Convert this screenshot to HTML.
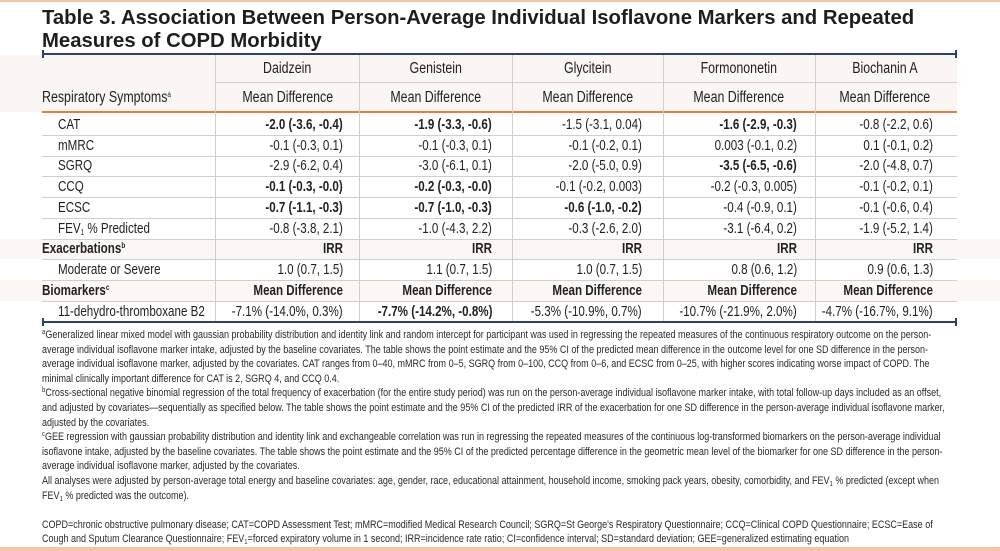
<!DOCTYPE html>
<html><head><meta charset="utf-8"><style>
*{margin:0;padding:0;box-sizing:border-box}
body{width:1000px;height:551px;background:#fff;position:relative;overflow:hidden;font-family:"Liberation Sans",Arial,sans-serif;color:#222}
.a{position:absolute}
.t{position:absolute;left:42px;font-weight:bold;font-size:20.5px;color:#1e1e1e;white-space:nowrap;transform:scaleX(.99);transform-origin:left}
.hl{position:absolute;left:42px;width:915px;height:1px;background:#cfcfcf}
.vl{position:absolute;width:1px;background:#cfcfcf}
.c{position:absolute;font-size:14.5px;white-space:nowrap;line-height:20px}
.c span{display:inline-block;transform:scaleX(.8)}
.r span{transform-origin:right}
.l span{transform-origin:left}
.m span{transform-origin:center}
b{font-weight:bold}
sup{font-size:8px;line-height:0;position:relative;top:-5px;vertical-align:baseline}
sub{font-size:8px;line-height:0;position:relative;top:2px;vertical-align:baseline}
.fn{position:absolute;left:42px;top:328px;width:1035px;font-size:10.6px;line-height:14.6px;white-space:nowrap;transform:scaleX(.85);transform-origin:left top;color:#2a2a2a}
.fn sup{font-size:7px;top:-4px}
.fn sub{font-size:7px}
</style></head><body>
<div class="a" style="left:0;top:0;width:1000px;height:2px;background:#f6c3a6"></div>
<div class="t" style="top:6px">Table 3. Association Between Person-Average Individual Isoflavone Markers and Repeated</div>
<div class="t" style="top:29px">Measures of COPD Morbidity</div>

<div class="a" style="left:0;top:55px;width:957px;height:57px;background:#f9f6f4"></div>
<div class="a" style="left:0;top:239px;width:1000px;height:20px;background:#faf7f5"></div>
<div class="a" style="left:0;top:280px;width:1000px;height:21px;background:#faf7f5"></div>

<div class="a" style="left:42px;top:53px;width:915px;height:2px;background:#2d4168"></div>
<div class="a" style="left:42px;top:50px;width:2px;height:8px;background:#2d4168"></div>
<div class="a" style="left:955px;top:50px;width:2px;height:8px;background:#2d4168"></div>
<div class="a" style="left:216px;top:82px;width:741px;height:1px;background:#cfcfcf"></div>
<div class="a" style="left:42px;top:111px;width:915px;height:2px;background:#ea7a42"></div>

<div class="hl" style="top:135px"></div><div class="hl" style="top:156px"></div><div class="hl" style="top:176px"></div>
<div class="hl" style="top:197px"></div><div class="hl" style="top:218px"></div><div class="hl" style="top:239px"></div>
<div class="hl" style="top:259px"></div><div class="hl" style="top:280px"></div><div class="hl" style="top:301px"></div>

<div class="vl" style="left:215px;top:55px;height:267px"></div>
<div class="vl" style="left:359px;top:55px;height:267px"></div>
<div class="vl" style="left:512px;top:55px;height:267px"></div>
<div class="vl" style="left:663px;top:55px;height:267px"></div>
<div class="vl" style="left:815px;top:55px;height:267px"></div>

<div class="a" style="left:42px;top:321px;width:915px;height:2px;background:#2d4168"></div>
<div class="a" style="left:42px;top:318px;width:2px;height:8px;background:#2d4168"></div>
<div class="a" style="left:955px;top:318px;width:2px;height:8px;background:#2d4168"></div>

<div class="c m" style="left:216px;width:143px;top:59px;text-align:center;font-size:15.5px"><span>Daidzein</span></div>
<div class="c m" style="left:359px;width:153px;top:59px;text-align:center;font-size:15.5px"><span>Genistein</span></div>
<div class="c m" style="left:512px;width:151px;top:59px;text-align:center;font-size:15.5px"><span>Glycitein</span></div>
<div class="c m" style="left:663px;width:152px;top:59px;text-align:center;font-size:15.5px"><span>Formononetin</span></div>
<div class="c m" style="left:815px;width:140px;top:59px;text-align:center;font-size:15.5px"><span>Biochanin A</span></div>
<div class="c l" style="left:42px;top:88px;font-size:15.5px"><span>Respiratory Symptoms<sup>a</sup></span></div>
<div class="c m" style="left:216px;width:143px;top:88px;text-align:center;font-size:15.5px"><span>Mean Difference</span></div>
<div class="c m" style="left:359px;width:153px;top:88px;text-align:center;font-size:15.5px"><span>Mean Difference</span></div>
<div class="c m" style="left:512px;width:151px;top:88px;text-align:center;font-size:15.5px"><span>Mean Difference</span></div>
<div class="c m" style="left:663px;width:152px;top:88px;text-align:center;font-size:15.5px"><span>Mean Difference</span></div>
<div class="c m" style="left:815px;width:140px;top:88px;text-align:center;font-size:15.5px"><span>Mean Difference</span></div>

<div class="c l" style="left:58px;top:115px"><span>CAT</span></div>
<div class="c l" style="left:58px;top:136px"><span>mMRC</span></div>
<div class="c l" style="left:58px;top:156px"><span>SGRQ</span></div>
<div class="c l" style="left:58px;top:177px"><span>CCQ</span></div>
<div class="c l" style="left:58px;top:198px"><span>ECSC</span></div>
<div class="c l" style="left:58px;top:219px"><span>FEV<sub>1</sub> % Predicted</span></div>
<div class="c l" style="left:42px;top:239px;font-weight:bold"><span>Exacerbations<sup>b</sup></span></div>
<div class="c l" style="left:58px;top:260px"><span>Moderate or Severe</span></div>
<div class="c l" style="left:42px;top:281px;font-weight:bold"><span>Biomarkers<sup>c</sup></span></div>
<div class="c l" style="left:58px;top:302px"><span>11-dehydro-thromboxane B2</span></div>

<div class="c r" style="right:657px;top:115px"><span><b>-2.0 (-3.6, -0.4)</b></span></div>
<div class="c r" style="right:657px;top:136px"><span>-0.1 (-0.3, 0.1)</span></div>
<div class="c r" style="right:657px;top:156px"><span>-2.9 (-6.2, 0.4)</span></div>
<div class="c r" style="right:657px;top:177px"><span><b>-0.1 (-0.3, -0.0)</b></span></div>
<div class="c r" style="right:657px;top:198px"><span><b>-0.7 (-1.1, -0.3)</b></span></div>
<div class="c r" style="right:657px;top:219px"><span>-0.8 (-3.8, 2.1)</span></div>
<div class="c r" style="right:657px;top:239px"><span><b>IRR</b></span></div>
<div class="c r" style="right:657px;top:260px"><span>1.0 (0.7, 1.5)</span></div>
<div class="c r" style="right:657px;top:281px"><span><b>Mean Difference</b></span></div>
<div class="c r" style="right:657px;top:302px"><span>-7.1% (-14.0%, 0.3%)</span></div>

<div class="c r" style="right:508px;top:115px"><span><b>-1.9 (-3.3, -0.6)</b></span></div>
<div class="c r" style="right:508px;top:136px"><span>-0.1 (-0.3, 0.1)</span></div>
<div class="c r" style="right:508px;top:156px"><span>-3.0 (-6.1, 0.1)</span></div>
<div class="c r" style="right:508px;top:177px"><span><b>-0.2 (-0.3, -0.0)</b></span></div>
<div class="c r" style="right:508px;top:198px"><span><b>-0.7 (-1.0, -0.3)</b></span></div>
<div class="c r" style="right:508px;top:219px"><span>-1.0 (-4.3, 2.2)</span></div>
<div class="c r" style="right:508px;top:239px"><span><b>IRR</b></span></div>
<div class="c r" style="right:508px;top:260px"><span>1.1 (0.7, 1.5)</span></div>
<div class="c r" style="right:508px;top:281px"><span><b>Mean Difference</b></span></div>
<div class="c r" style="right:508px;top:302px"><span><b>-7.7% (-14.2%, -0.8%)</b></span></div>

<div class="c r" style="right:358px;top:115px"><span>-1.5 (-3.1, 0.04)</span></div>
<div class="c r" style="right:358px;top:136px"><span>-0.1 (-0.2, 0.1)</span></div>
<div class="c r" style="right:358px;top:156px"><span>-2.0 (-5.0, 0.9)</span></div>
<div class="c r" style="right:358px;top:177px"><span>-0.1 (-0.2, 0.003)</span></div>
<div class="c r" style="right:358px;top:198px"><span><b>-0.6 (-1.0, -0.2)</b></span></div>
<div class="c r" style="right:358px;top:219px"><span>-0.3 (-2.6, 2.0)</span></div>
<div class="c r" style="right:358px;top:239px"><span><b>IRR</b></span></div>
<div class="c r" style="right:358px;top:260px"><span>1.0 (0.7, 1.5)</span></div>
<div class="c r" style="right:358px;top:281px"><span><b>Mean Difference</b></span></div>
<div class="c r" style="right:358px;top:302px"><span>-5.3% (-10.9%, 0.7%)</span></div>

<div class="c r" style="right:203px;top:115px"><span><b>-1.6 (-2.9, -0.3)</b></span></div>
<div class="c r" style="right:203px;top:136px"><span>0.003 (-0.1, 0.2)</span></div>
<div class="c r" style="right:203px;top:156px"><span><b>-3.5 (-6.5, -0.6)</b></span></div>
<div class="c r" style="right:203px;top:177px"><span>-0.2 (-0.3, 0.005)</span></div>
<div class="c r" style="right:203px;top:198px"><span>-0.4 (-0.9, 0.1)</span></div>
<div class="c r" style="right:203px;top:219px"><span>-3.1 (-6.4, 0.2)</span></div>
<div class="c r" style="right:203px;top:239px"><span><b>IRR</b></span></div>
<div class="c r" style="right:203px;top:260px"><span>0.8 (0.6, 1.2)</span></div>
<div class="c r" style="right:203px;top:281px"><span><b>Mean Difference</b></span></div>
<div class="c r" style="right:203px;top:302px"><span>-10.7% (-21.9%, 2.0%)</span></div>

<div class="c r" style="right:67px;top:115px"><span>-0.8 (-2.2, 0.6)</span></div>
<div class="c r" style="right:67px;top:136px"><span>0.1 (-0.1, 0.2)</span></div>
<div class="c r" style="right:67px;top:156px"><span>-2.0 (-4.8, 0.7)</span></div>
<div class="c r" style="right:67px;top:177px"><span>-0.1 (-0.2, 0.1)</span></div>
<div class="c r" style="right:67px;top:198px"><span>-0.1 (-0.6, 0.4)</span></div>
<div class="c r" style="right:67px;top:219px"><span>-1.9 (-5.2, 1.4)</span></div>
<div class="c r" style="right:67px;top:239px"><span><b>IRR</b></span></div>
<div class="c r" style="right:67px;top:260px"><span>0.9 (0.6, 1.3)</span></div>
<div class="c r" style="right:67px;top:281px"><span><b>Mean Difference</b></span></div>
<div class="c r" style="right:67px;top:302px"><span>-4.7% (-16.7%, 9.1%)</span></div>

<div class="fn">
<sup>a</sup>Generalized linear mixed model with gaussian probability distribution and identity link and random intercept for participant was used in regressing the repeated measures of the continuous respiratory outcome on the person-<br>
average individual isoflavone marker intake, adjusted by the baseline covariates. The table shows the point estimate and the 95% CI of the predicted mean difference in the outcome level for one SD difference in the person-<br>
average individual isoflavone marker, adjusted by the covariates. CAT ranges from 0–40, mMRC from 0–5, SGRQ from 0–100, CCQ from 0–6, and ECSC from 0–25, with higher scores indicating worse impact of COPD. The<br>
minimal clinically important difference for CAT is 2, SGRQ 4, and CCQ 0.4.<br>
<sup>b</sup>Cross-sectional negative binomial regression of the total frequency of exacerbation (for the entire study period) was run on the person-average individual isoflavone marker intake, with total follow-up days included as an offset,<br>
and adjusted by covariates—sequentially as specified below. The table shows the point estimate and the 95% CI of the predicted IRR of the exacerbation for one SD difference in the person-average individual isoflavone marker,<br>
adjusted by the covariates.<br>
<sup>c</sup>GEE regression with gaussian probability distribution and identity link and exchangeable correlation was run in regressing the repeated measures of the continuous log-transformed biomarkers on the person-average individual<br>
isoflavone intake, adjusted by the baseline covariates. The table shows the point estimate and the 95% CI of the predicted percentage difference in the geometric mean level of the biomarker for one SD difference in the person-<br>
average individual isoflavone marker, adjusted by the covariates.<br>
All analyses were adjusted by person-average total energy and baseline covariates: age, gender, race, educational attainment, household income, smoking pack years, obesity, comorbidity, and FEV<sub>1</sub> % predicted (except when<br>
FEV<sub>1</sub> % predicted was the outcome).<br>
<br>
COPD=chronic obstructive pulmonary disease; CAT=COPD Assessment Test; mMRC=modified Medical Research Council; SGRQ=St George's Respiratory Questionnaire; CCQ=Clinical COPD Questionnaire; ECSC=Ease of<br>
Cough and Sputum Clearance Questionnaire; FEV<sub>1</sub>=forced expiratory volume in 1 second; IRR=incidence rate ratio; CI=confidence interval; SD=standard deviation; GEE=generalized estimating equation
</div>
<div class="a" style="left:0;top:547px;width:1000px;height:4px;background:#f7c4a6"></div>
</body></html>
